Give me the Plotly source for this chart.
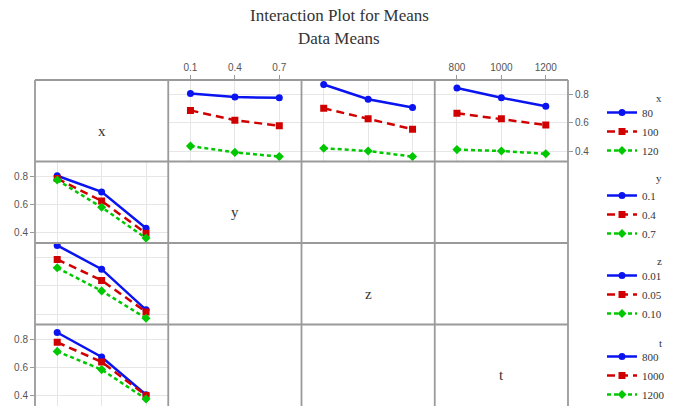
import plotly.graph_objects as go
from plotly.subplots import make_subplots

# ---- factor levels (tick labels / legend labels) ----
x_levels = ["80", "100", "120"]
y_levels = ["0.1", "0.4", "0.7"]
z_levels = ["0.01", "0.05", "0.10"]
t_levels = ["800", "1000", "1200"]

# ---- row 1: traces = x levels, plotted against y / z / t levels ----
x80_by_y = [0.81, 0.785, 0.78]
x100_by_y = [0.69, 0.62, 0.58]
x120_by_y = [0.435, 0.39, 0.36]

x80_by_z = [0.875, 0.77, 0.71]
x100_by_z = [0.705, 0.63, 0.555]
x120_by_z = [0.42, 0.40, 0.36]

x80_by_t = [0.85, 0.78, 0.72]
x100_by_t = [0.67, 0.63, 0.585]
x120_by_t = [0.41, 0.40, 0.38]

# ---- column 1: traces = y / z / t levels, plotted against x levels ----
y01_by_x = [0.805, 0.69, 0.43]
y04_by_x = [0.785, 0.625, 0.395]
y07_by_x = [0.775, 0.58, 0.36]

z001_by_x = [0.89, 0.72, 0.43]
z005_by_x = [0.79, 0.64, 0.415]
z010_by_x = [0.73, 0.565, 0.37]

t800_by_x = [0.85, 0.675, 0.405]
t1000_by_x = [0.78, 0.64, 0.40]
t1200_by_x = [0.715, 0.585, 0.375]

factor_names = ["x", "y", "z", "t"]
y_ticks = [0.4, 0.6, 0.8]
y_range = [0.325, 0.907]

COLORS = ["#0a14f0", "#d00000", "#00c800"]
DASHES = ["solid", "8px,5px", "4px,3px"]
SYMBOLS = ["circle", "square", "diamond"]

SERIF = "Liberation Serif, Times New Roman, serif"
SANS = "Liberation Sans, Arial, sans-serif"

fig = make_subplots(rows=4, cols=4, horizontal_spacing=0, vertical_spacing=0)

pos = [0, 1, 2]


def add_group(row, col, series, names, legend, show):
    for i, (vals, nm) in enumerate(zip(series, names)):
        fig.add_trace(
            go.Scatter(
                x=pos, y=vals, name=nm, mode="lines+markers",
                line=dict(color=COLORS[i], width=2.5, dash=DASHES[i]),
                marker=dict(color=COLORS[i], symbol=SYMBOLS[i], size=7),
                legend=legend, showlegend=show,
            ),
            row=row, col=col,
        )


add_group(1, 2, [x80_by_y, x100_by_y, x120_by_y], x_levels, "legend", True)
add_group(1, 3, [x80_by_z, x100_by_z, x120_by_z], x_levels, "legend", False)
add_group(1, 4, [x80_by_t, x100_by_t, x120_by_t], x_levels, "legend", False)
add_group(2, 1, [y01_by_x, y04_by_x, y07_by_x], y_levels, "legend2", True)
add_group(3, 1, [z001_by_x, z005_by_x, z010_by_x], z_levels, "legend3", True)
add_group(4, 1, [t800_by_x, t1000_by_x, t1200_by_x], t_levels, "legend4", True)

col_levels = [x_levels, y_levels, z_levels, t_levels]
data_cells = {(1, 2), (1, 3), (1, 4), (2, 1), (3, 1), (4, 1)}
top_labels = {(1, 2), (1, 4)}
yleft = {(2, 1), (4, 1)}
yright = {(1, 4), (3, 4)}

GRID = "#e6e6e6"
TICKFONT = dict(family=SANS, size=10, color="#555")

for r in range(1, 5):
    for c in range(1, 5):
        data = (r, c) in data_cells
        xa = dict(range=[-0.5, 2.5], tickvals=pos, ticktext=col_levels[c - 1],
                  showgrid=data, gridcolor=GRID, zeroline=False, showline=False,
                  showticklabels=(r, c) in top_labels, tickfont=TICKFONT,
                  fixedrange=True, automargin=False)
        if (r, c) in top_labels:
            xa.update(side="top", ticks="outside", ticklen=4, tickcolor="#999")
        else:
            xa.update(ticks="")
        ya = dict(range=y_range, tickvals=y_ticks, ticktext=["0.4", "0.6", "0.8"],
                  showgrid=data, gridcolor=GRID, zeroline=False, showline=False,
                  showticklabels=((r, c) in yleft or (r, c) in yright),
                  tickfont=TICKFONT, fixedrange=True, automargin=False)
        if (r, c) in yleft:
            ya.update(side="left", ticks="outside", ticklen=4, tickcolor="#999")
        elif (r, c) in yright:
            ya.update(side="right", ticks="outside", ticklen=4, tickcolor="#999")
        else:
            ya.update(ticks="")
        fig.update_xaxes(row=r, col=c, **xa)
        fig.update_yaxes(row=r, col=c, **ya)

# cell borders
shapes = []
BORDER = dict(color="#9a9a9a", width=1.8)
for k in range(5):
    shapes.append(dict(type="line", xref="paper", yref="paper",
                       x0=k / 4, x1=k / 4, y0=0, y1=1, line=BORDER))
for k in range(1, 5):
    shapes.append(dict(type="line", xref="paper", yref="paper",
                       x0=0, x1=1, y0=k / 4, y1=k / 4, line=BORDER))

W, H = 681, 406
ML, MR, MT, MB = 35, 113, 80, 0
PW, PH = W - ML - MR, H - MT - MB


def px(xp):
    return (xp - ML) / PW


def py(yp):
    return (H - MB - yp) / PH


TXT = "#333"
annotations = [
    dict(text="Interaction Plot for Means", x=px(339), xref="paper", y=py(15),
         yref="paper", showarrow=False, font=dict(family=SERIF, size=17, color=TXT),
         xanchor="center", yanchor="middle"),
    dict(text="Data Means", x=px(339), xref="paper", y=py(38), yref="paper",
         showarrow=False, font=dict(family=SERIF, size=17, color=TXT),
         xanchor="center", yanchor="middle"),
]
for k, nm in enumerate(factor_names):
    annotations.append(dict(text=nm, xref="paper", yref="paper",
                            x=(k + 0.5) / 4, y=1 - (k + 0.5) / 4 - 10 / PH,
                            showarrow=False, font=dict(family=SERIF, size=15, color=TXT),
                            xanchor="center", yanchor="middle"))

# legend group titles
leg_title_y = [98, 178, 261, 343]
for nm, yy in zip(factor_names, leg_title_y):
    annotations.append(dict(text=nm, xref="paper", yref="paper", x=px(664), y=py(yy),
                            showarrow=False, font=dict(family=SERIF, size=11, color=TXT),
                            xanchor="right", yanchor="middle"))

leg_common = dict(xref="paper", yref="paper", x=px(602), xanchor="left", yanchor="top",
                  bgcolor="rgba(0,0,0,0)", font=dict(family=SERIF, size=11, color=TXT),
                  tracegroupgap=0)


def legend_cfg(first_entry_y):
    d = dict(leg_common)
    d.update(y=py(first_entry_y - 14))
    return d


fig.update_layout(
    width=W, height=H,
    margin=dict(l=ML, r=MR, t=MT, b=MB, autoexpand=False),
    paper_bgcolor="white", plot_bgcolor="white",
    shapes=shapes, annotations=annotations,
    legend=legend_cfg(112),
    legend2=legend_cfg(195),
    legend3=legend_cfg(275),
    legend4=legend_cfg(356),
)

fig.write_html("out.html", config={"displayModeBar": False},
               post_script="document.body.style.margin='0';document.body.style.overflow='hidden';")
